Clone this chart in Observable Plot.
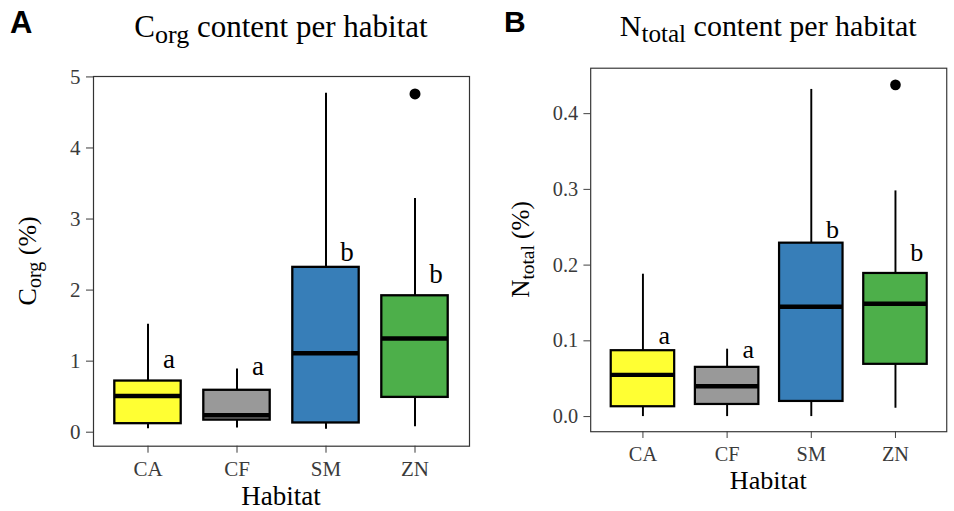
<!DOCTYPE html>
<html>
<head>
<meta charset="utf-8">
<script src="https://cdn.jsdelivr.net/npm/d3@7"></script>
<script src="https://cdn.jsdelivr.net/npm/@observablehq/plot@0.6"></script>
<style>
  html, body { margin: 0; padding: 0; background: white; overflow: hidden; width: 954px; height: 511px; }
  #wrap { position: relative; width: 954px; height: 511px; overflow: hidden; }
  #panelA, #panelB { position: absolute; top: 0; }
  #panelA { left: 0; }
  #panelB { left: 477px; }
  svg text { font-family: 'Liberation Serif', 'DejaVu Serif', serif; }
</style>
</head>
<body>
<div id="wrap">
  <div id="panelA"></div>
  <div id="panelB"></div>
</div>
<script>
// ---- data ----
const habitats = ["CA", "CF", "SM", "ZN"];
const habitatColors = ["#FFFF33", "#999999", "#377EB8", "#4DAF4A"];

// Panel A: C_org (%)
const corgLow    = [0.05, 0.06, 0.04, 0.075];
const corgQ1     = [0.12, 0.17, 0.13, 0.49];
const corgMedian = [0.51, 0.24, 1.11, 1.32];
const corgQ3     = [0.72, 0.59, 2.32, 1.92];
const corgHigh   = [1.52, 0.89, 4.77, 3.29];
const corgOutlierHabitat = ["ZN"];
const corgOutlierValue   = [4.76];
const corgLetters  = ["a", "a", "b", "b"];
const corgLetterY  = [0.90, 0.80, 2.41, 2.10];
const corgTicks = [0, 1, 2, 3, 4, 5];

// Panel B: N_total (%)
const ntotLow    = [0.0, 0.0, 0.0, 0.011];
const ntotQ1     = [0.013, 0.016, 0.020, 0.069];
const ntotMedian = [0.055, 0.040, 0.145, 0.149];
const ntotQ3     = [0.087, 0.065, 0.229, 0.189];
const ntotHigh   = [0.188, 0.089, 0.432, 0.298];
const ntotOutlierHabitat = ["ZN"];
const ntotOutlierValue   = [0.438];
const ntotLetters = ["a", "a", "b", "b"];
const ntotLetterY = [0.096, 0.077, 0.236, 0.206];
const ntotTicks = [0, 0.1, 0.2, 0.3, 0.4];

const serif = "'Liberation Serif', 'DejaVu Serif', serif";

function rows(lo, q1, med, q3, hi, letters, ly) {
  return habitats.map((h, i) => ({
    hab: h, color: habitatColors[i], lo: lo[i], q1: q1[i], med: med[i],
    q3: q3[i], hi: hi[i], letter: letters[i], ly: ly[i]
  }));
}

function panel(cfg) {
  const data = rows(cfg.lo, cfg.q1, cfg.med, cfg.q3, cfg.hi, cfg.letters, cfg.ly);
  const outliers = cfg.outHab.map((h, i) => ({hab: h, val: cfg.outVal[i]}));
  const inset = cfg.inset;
  const svg = Plot.plot({
    width: cfg.width, height: 511,
    marginLeft: cfg.marginLeft, marginRight: cfg.marginRight,
    marginTop: cfg.marginTop, marginBottom: cfg.marginBottom,
    style: `font-family: ${serif}; font-size: 21px; background: white; overflow: visible;`,
    x: {domain: habitats, padding: 0.2, label: null},
    y: {domain: cfg.yDomain, label: null},
    color: {type: "identity"},
    marks: [
      Plot.ruleX(data, {x: "hab", y1: "lo", y2: "q1", stroke: "black", strokeWidth: 2}),
      Plot.ruleX(data, {x: "hab", y1: "q3", y2: "hi", stroke: "black", strokeWidth: 2}),
      Plot.barY(data, {x: "hab", y1: "q1", y2: "q3", fill: "color", stroke: "black", strokeWidth: 2.3, insetLeft: inset, insetRight: inset}),
      Plot.tickY(data, {x: "hab", y: "med", stroke: "black", strokeWidth: 4.5, insetLeft: inset, insetRight: inset}),
      Plot.dot(outliers, {x: "hab", y: "val", r: 5.5, fill: "black", stroke: "none"}),
      Plot.text(data, {x: "hab", y: "ly", text: "letter", dx: cfg.letterDx, lineAnchor: "bottom", fontSize: 27, fontFamily: serif, fill: "black"}),
      Plot.frame({stroke: "#333", strokeWidth: 1.2}),
      Plot.axisY({ticks: cfg.ticks, tickFormat: cfg.tickFormat, tickSize: 7, tickPadding: 6, label: null, color: "#3a3a3a", fontSize: 21, fontFamily: serif}),
      Plot.axisX({tickSize: 7, tickPadding: 8, label: null, color: "#3a3a3a", fontSize: 21, fontFamily: serif})
    ]
  });
  const s = d3.select(svg);
  const cx = cfg.marginLeft + (cfg.width - cfg.marginLeft - cfg.marginRight) / 2;
  const cy = cfg.marginTop + (511 - cfg.marginTop - cfg.marginBottom) / 2;
  // panel tag
  s.append("text").attr("x", cfg.tagX).attr("y", 33).attr("text-anchor", "start")
    .style("font-family", "'Liberation Sans', Arial, sans-serif").attr("font-weight", "bold")
    .attr("font-size", 31).attr("fill", "black").text(cfg.tag);
  // title
  const t = s.append("text").attr("x", cx).attr("y", 37).attr("text-anchor", "middle")
    .attr("font-size", 31).attr("fill", "black");
  t.append("tspan").text(cfg.sym);
  t.append("tspan").attr("font-size", 26).attr("dy", 6).text(cfg.sub);
  t.append("tspan").attr("dy", -6).text(" content per habitat");
  // y label
  const yl = s.append("text").attr("transform", `translate(${cfg.yLabelX},${cy}) rotate(-90)`)
    .attr("text-anchor", "middle").attr("font-size", 26).attr("fill", "black");
  yl.append("tspan").text(cfg.sym);
  yl.append("tspan").attr("font-size", 20).attr("dy", 5).text(cfg.sub);
  yl.append("tspan").attr("dy", -5).text(" (%)");
  // x label
  s.append("text").attr("x", cx).attr("y", 505).attr("text-anchor", "middle")
    .attr("font-size", 27).attr("fill", "black").text("Habitat");
  return svg;
}

document.getElementById("panelA").append(panel({
  width: 477, marginLeft: 93, marginRight: 8, marginTop: 76, marginBottom: 65.3,
  yDomain: [-0.197, 5.006], ticks: corgTicks, tickFormat: d3.format("d"),
  lo: corgLow, q1: corgQ1, med: corgMedian, q3: corgQ3, hi: corgHigh,
  letters: corgLetters, ly: corgLetterY, outHab: corgOutlierHabitat, outVal: corgOutlierValue,
  inset: 2.3, letterDx: 21, tag: "A", tagX: 10, sym: "C", sub: "org", yLabelX: 36
}));

document.getElementById("panelB").append(panel({
  width: 493, marginLeft: 117, marginRight: 8, marginTop: 70, marginBottom: 65.3,
  yDomain: [-0.02, 0.46], ticks: ntotTicks, tickFormat: d3.format(".1f"),
  lo: ntotLow, q1: ntotQ1, med: ntotMedian, q3: ntotQ3, hi: ntotHigh,
  letters: ntotLetters, ly: ntotLetterY, outHab: ntotOutlierHabitat, outVal: ntotOutlierValue,
  inset: 2.2, letterDx: 22, tag: "B", tagX: 28, sym: "N", sub: "total", yLabelX: 54
}));
</script>
</body>
</html>
